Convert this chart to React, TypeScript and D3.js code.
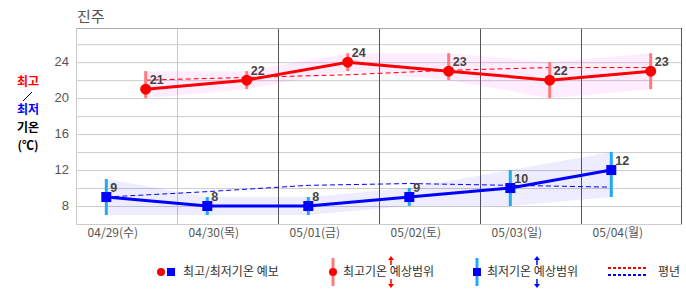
import React, { useEffect, useRef } from "react";
import * as d3 from "d3";

const days = ["04/29(수)", "04/30(목)", "05/01(금)", "05/02(토)", "05/03(일)", "05/04(월)"];
const maxTemp = [21, 22, 24, 23, 22, 23];
const maxLow = [20, 21, 23, 22, 20, 21];
const maxHigh = [23, 23, 25, 25, 24, 25];
const maxNormal = [22.0, 22.3, 22.6, 23.1, 23.4, 23.4];
const minTemp = [9, 8, 8, 9, 10, 12];
const minLow = [7, 7, 7, 8, 8, 9];
const minHigh = [11, 9, 9, 10, 12, 14];
const minNormal = [9.0, 9.6, 10.3, 10.5, 10.3, 10.1];
const yTicks = [8, 12, 16, 20, 24];
const gridTicks = [8, 10, 12, 14, 16, 18, 20, 22, 24, 26];

const KR = "'Noto Sans CJK KR', 'Noto Sans', sans-serif";
const NUM = "'Liberation Sans', Arial, sans-serif";

function App() {
  const ref = useRef<SVGSVGElement | null>(null);

  useEffect(() => {
    const svg = d3.select(ref.current);
    svg.selectAll("*").remove();

    const x = d3.scaleLinear().domain([0, 6]).range([76, 682]);
    const y = d3.scaleLinear().domain([6, 27.8]).range([224, 28]);
    const minX = (i: number) => x(i + 0.3);
    const maxX = (i: number) => x(i + 0.69);

    // title
    svg.append("text").attr("x", 77).attr("y", 22).attr("font-family", KR)
      .attr("font-size", 15).attr("fill", "#555").text("진주");

    // y axis title
    const yt = svg.append("g").attr("font-family", KR).attr("font-weight", "bold")
      .attr("font-size", 12).attr("text-anchor", "middle");
    yt.append("text").attr("x", 28).attr("y", 86).attr("fill", "#f00").text("최고");
    yt.append("line").attr("x1", 23).attr("y1", 101).attr("x2", 32).attr("y2", 92)
      .attr("stroke", "#000").attr("stroke-width", 1);
    yt.append("text").attr("x", 28).attr("y", 114).attr("fill", "#00f").text("최저");
    yt.append("text").attr("x", 28).attr("y", 132).attr("fill", "#000").text("기온");
    yt.append("text").attr("x", 28).attr("y", 150).attr("fill", "#000").text("(℃)");

    // grid
    const grid = svg.append("g");
    grid.selectAll("line.h").data(gridTicks).enter().append("line")
      .attr("x1", x(0)).attr("x2", x(6))
      .attr("y1", d => y(d) + 0.5).attr("y2", d => y(d) + 0.5)
      .attr("stroke", "#ccc");
    grid.selectAll("line.v").data([1, 2, 3, 4, 5]).enter().append("line")
      .attr("x1", d => x(d) + 0.5).attr("x2", d => x(d) + 0.5)
      .attr("y1", y(27.8)).attr("y2", y(6))
      .attr("stroke", d => (d === 1 ? "#c8c8c8" : "#555"));
    grid.append("line").attr("x1", x(0)).attr("x2", x(6)).attr("y1", y(27.8) + 0.5)
      .attr("y2", y(27.8) + 0.5).attr("stroke", "#aaa");
    grid.append("line").attr("x1", x(0)).attr("x2", x(6)).attr("y1", y(6) + 0.5)
      .attr("y2", y(6) + 0.5).attr("stroke", "#ccc");
    grid.append("line").attr("x1", x(0) + 0.5).attr("x2", x(0) + 0.5).attr("y1", y(27.8))
      .attr("y2", y(6)).attr("stroke", "#ccc");
    grid.append("line").attr("x1", x(6) - 0.5).attr("x2", x(6) - 0.5).attr("y1", y(27.8))
      .attr("y2", y(6)).attr("stroke", "#555");

    // y tick labels
    svg.append("g").selectAll("text").data(yTicks).enter().append("text")
      .attr("x", 69).attr("y", d => y(d) + 4).attr("text-anchor", "end")
      .attr("font-family", NUM).attr("font-size", 13).attr("fill", "#555")
      .text(d => d);

    // x labels
    svg.append("g").selectAll("text").data(days).enter().append("text")
      .attr("x", (d, i) => x(i + 0.365)).attr("y", 237).attr("text-anchor", "middle")
      .attr("font-family", KR).attr("font-size", 12).attr("fill", "#555")
      .text(d => d);

    const idx = d3.range(days.length);

    // range bands
    const maxBand = d3.area<number>().x(i => maxX(i)).y0(i => y(maxLow[i])).y1(i => y(maxHigh[i]));
    const minBand = d3.area<number>().x(i => minX(i)).y0(i => y(minLow[i])).y1(i => y(minHigh[i]));
    svg.append("path").attr("d", maxBand(idx)).attr("fill", "#ff00ff").attr("fill-opacity", 0.07);
    svg.append("path").attr("d", minBand(idx)).attr("fill", "#0000ff").attr("fill-opacity", 0.07);

    // normals
    const maxNormLine = d3.line<number>().x(i => maxX(i)).y(i => y(maxNormal[i]));
    const minNormLine = d3.line<number>().x(i => minX(i)).y(i => y(minNormal[i]));
    svg.append("path").attr("d", maxNormLine(idx)).attr("fill", "none")
      .attr("stroke", "#f00").attr("stroke-dasharray", "5,3").attr("stroke-width", 1);
    svg.append("path").attr("d", minNormLine(idx)).attr("fill", "none")
      .attr("stroke", "#00f").attr("stroke-dasharray", "5,3").attr("stroke-width", 1);

    // range bars
    svg.append("g").selectAll("line").data(idx).enter().append("line")
      .attr("x1", i => maxX(i)).attr("x2", i => maxX(i))
      .attr("y1", i => y(maxHigh[i])).attr("y2", i => y(maxLow[i]))
      .attr("stroke", "#ff7a7a").attr("stroke-width", 3);
    svg.append("g").selectAll("line").data(idx).enter().append("line")
      .attr("x1", i => minX(i)).attr("x2", i => minX(i))
      .attr("y1", i => y(minHigh[i])).attr("y2", i => y(minLow[i]))
      .attr("stroke", "#1eaaf5").attr("stroke-width", 3);

    // main lines
    const maxLine = d3.line<number>().x(i => maxX(i)).y(i => y(maxTemp[i]));
    const minLine = d3.line<number>().x(i => minX(i)).y(i => y(minTemp[i]));
    svg.append("path").attr("d", maxLine(idx)).attr("fill", "none")
      .attr("stroke", "#f00").attr("stroke-width", 3);
    svg.append("path").attr("d", minLine(idx)).attr("fill", "none")
      .attr("stroke", "#00f").attr("stroke-width", 3);

    // markers
    svg.append("g").selectAll("circle").data(idx).enter().append("circle")
      .attr("cx", i => maxX(i)).attr("cy", i => y(maxTemp[i])).attr("r", 5.5).attr("fill", "#f00");
    svg.append("g").selectAll("rect").data(idx).enter().append("rect")
      .attr("x", i => minX(i) - 5).attr("y", i => y(minTemp[i]) - 5)
      .attr("width", 10).attr("height", 10).attr("fill", "#00f");

    // value labels
    const lab = svg.append("g").attr("font-family", NUM).attr("font-weight", "bold")
      .attr("font-size", 12.5).attr("fill", "#444");
    lab.selectAll("text.mx").data(idx).enter().append("text")
      .attr("x", i => maxX(i) + 4).attr("y", i => y(maxTemp[i]) - 5).text(i => maxTemp[i]);
    lab.selectAll("text.mn").data(idx).enter().append("text")
      .attr("x", i => minX(i) + 4).attr("y", i => y(minTemp[i]) - 5).text(i => minTemp[i]);

    // legend
    const lg = svg.append("g").attr("font-family", KR).attr("font-size", 12).attr("fill", "#333");
    lg.append("circle").attr("cx", 161).attr("cy", 272).attr("r", 4).attr("fill", "#f00");
    lg.append("rect").attr("x", 167).attr("y", 268).attr("width", 8).attr("height", 8).attr("fill", "#00f");
    lg.append("text").attr("x", 183).attr("y", 276).text("최고/최저기온 예보");

    const arrows = (ax: number, color: string) => {
      lg.append("line").attr("x1", ax).attr("x2", ax).attr("y1", 258).attr("y2", 265)
        .attr("stroke", color).attr("stroke-width", 1.5);
      lg.append("path").attr("d", `M${ax - 3},260 L${ax},256 L${ax + 3},260 Z`).attr("fill", color);
      lg.append("line").attr("x1", ax).attr("x2", ax).attr("y1", 279).attr("y2", 286)
        .attr("stroke", color).attr("stroke-width", 1.5);
      lg.append("path").attr("d", `M${ax - 3},284 L${ax},288 L${ax + 3},284 Z`).attr("fill", color);
    };

    lg.append("line").attr("x1", 333).attr("x2", 333).attr("y1", 258).attr("y2", 286)
      .attr("stroke", "#ff7a7a").attr("stroke-width", 3);
    lg.append("circle").attr("cx", 333).attr("cy", 272).attr("r", 4).attr("fill", "#f00");
    lg.append("text").attr("x", 343).attr("y", 276).text("최고기온 예상범위");
    arrows(391, "#f00");

    lg.append("line").attr("x1", 477).attr("x2", 477).attr("y1", 258).attr("y2", 286)
      .attr("stroke", "#1eaaf5").attr("stroke-width", 3);
    lg.append("rect").attr("x", 473).attr("y", 268).attr("width", 8).attr("height", 8).attr("fill", "#00f");
    lg.append("text").attr("x", 487).attr("y", 276).text("최저기온 예상범위");
    arrows(537, "#00f");

    lg.append("line").attr("x1", 608).attr("x2", 648).attr("y1", 268).attr("y2", 268)
      .attr("stroke", "#f00").attr("stroke-width", 2).attr("stroke-dasharray", "3,2");
    lg.append("line").attr("x1", 608).attr("x2", 648).attr("y1", 275).attr("y2", 275)
      .attr("stroke", "#00f").attr("stroke-width", 2).attr("stroke-dasharray", "3,2");
    lg.append("text").attr("x", 658).attr("y", 276).text("평년");
  }, []);

  return (
    <svg ref={ref} width={686} height={295}
      style={{ position: "absolute", left: 0, top: 0, background: "#fff" }} />
  );
}

export default App;
